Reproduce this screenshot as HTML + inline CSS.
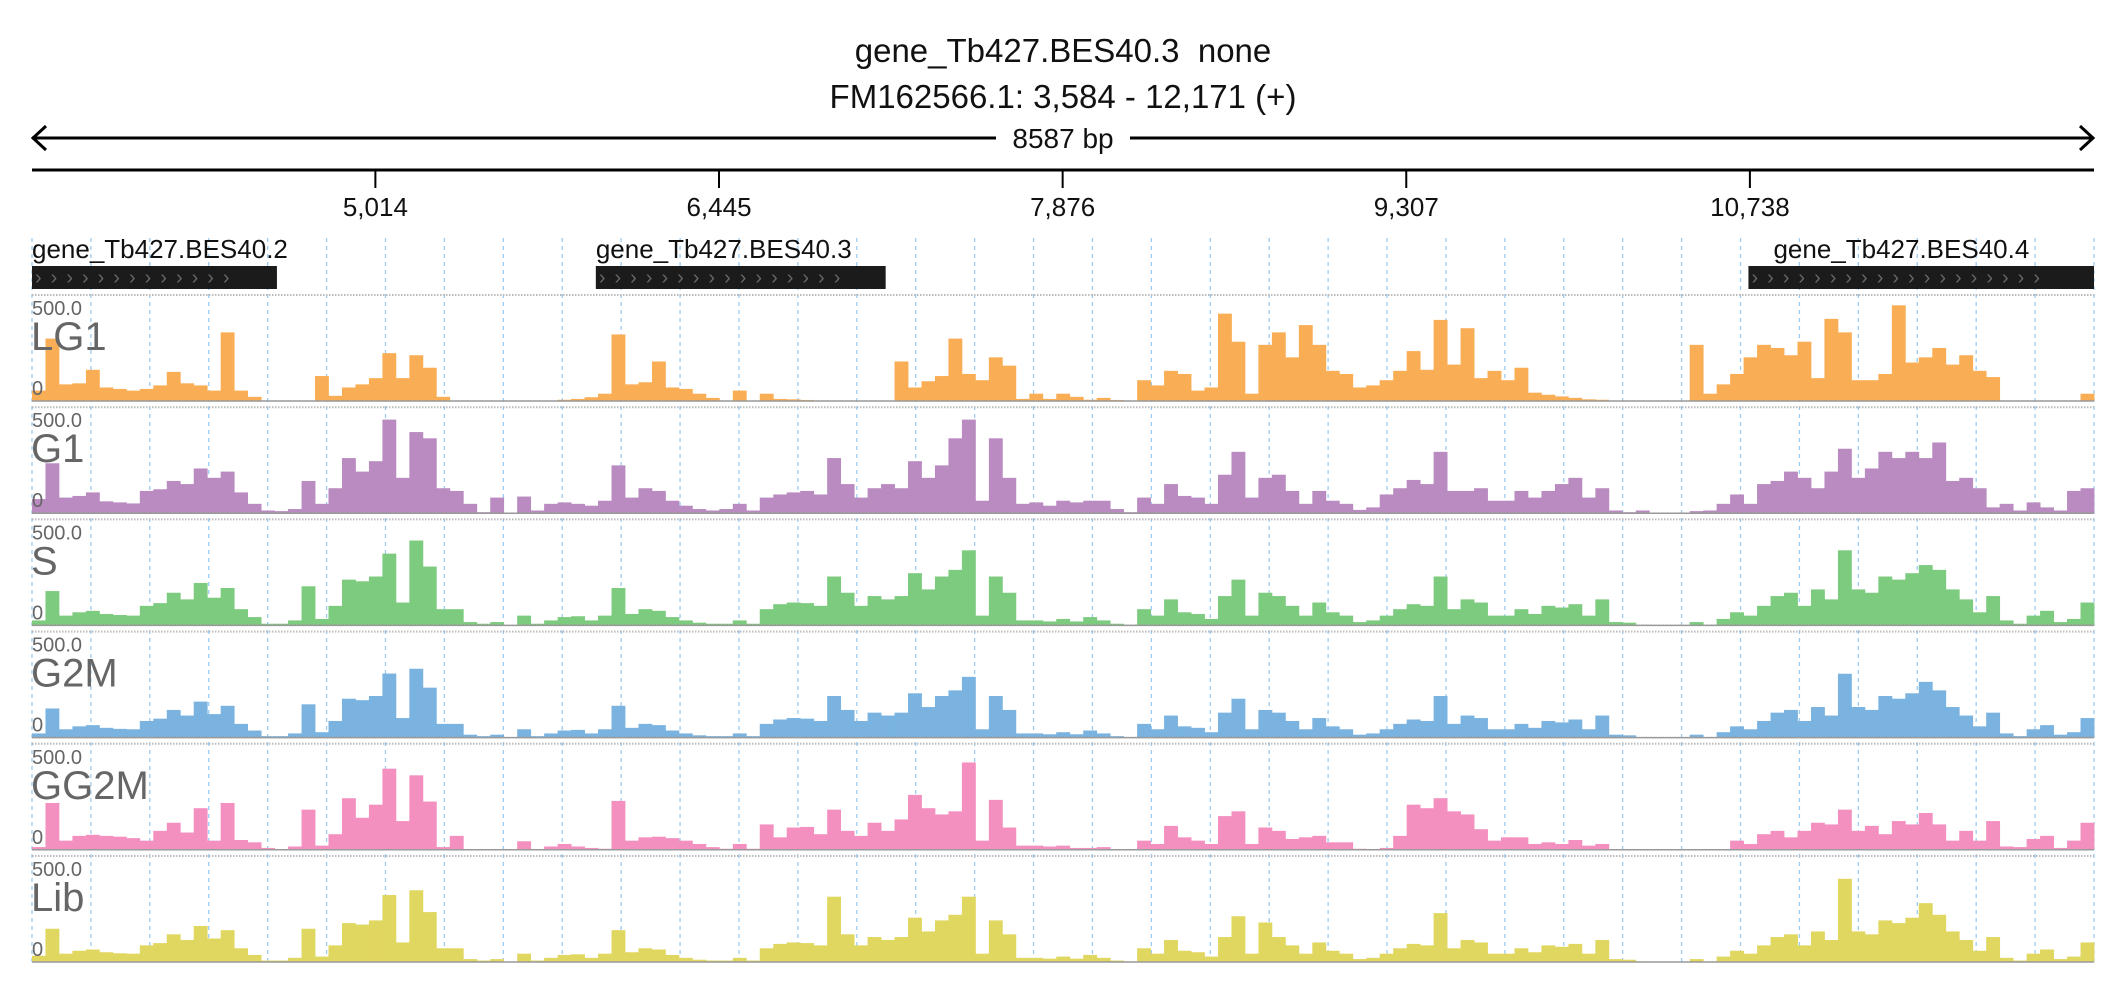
<!DOCTYPE html>
<html><head><meta charset="utf-8"><style>
html,body{margin:0;padding:0;background:#fff;}
svg{display:block;font-family:"Liberation Sans",sans-serif;}
</style></head><body>
<svg id="chart" width="2126" height="1000" viewBox="0 0 2126 1000" xmlns="http://www.w3.org/2000/svg">
<g id="grid"></g>
<g>
<text x="1063" y="62" font-size="33" text-anchor="middle" fill="#111">gene_Tb427.BES40.3&#160;&#160;none</text>
<text x="1063" y="108" font-size="33" text-anchor="middle" fill="#111">FM162566.1: 3,584 - 12,171 (+)</text>
<line x1="32" y1="138" x2="2094" y2="138" stroke="#000" stroke-width="3"/>
<polyline points="46,126 33,138 46,150" fill="none" stroke="#000" stroke-width="3"/>
<polyline points="2080,126 2093,138 2080,150" fill="none" stroke="#000" stroke-width="3"/>
<rect x="996" y="120" width="134" height="34" fill="#fff"/>
<text x="1063" y="148" font-size="28" text-anchor="middle" fill="#111">8587 bp</text>
<line x1="32" y1="170" x2="2094" y2="170" stroke="#000" stroke-width="3"/>
</g>
<g id="axis"></g>
<g id="genes"></g>
<g id="tracks"></g>
</svg>
<script>
const NS="http://www.w3.org/2000/svg";
const startBp=3584, endBp=12171;
const tickValues=[5014,6445,7876,9307,10738];
const tickLabels=["5,014","6,445","7,876","9,307","10,738"];
const geneNames=["gene_Tb427.BES40.2","gene_Tb427.BES40.3","gene_Tb427.BES40.4"];
const geneStarts=[3584,5932,10732];
const geneEnds=[4604,7139,12171];
const trackNames=["LG1","G1","S","G2M","GG2M","Lib"];
const trackMax=500;
const valsLG1=[50,300,80,85,150,65,58,50,58,75,140,85,75,50,330,50,20,0,0,0,0,120,25,65,80,110,230,110,220,160,20,0,0,0,0,0,0,0,0,6,10,18,35,320,80,90,190,65,58,35,15,0,50,0,35,10,8,5,0,0,0,0,0,0,190,65,95,120,300,130,100,210,170,10,35,10,35,20,6,15,5,0,100,75,145,130,50,65,420,285,35,270,330,210,365,270,145,130,65,75,100,145,240,150,390,175,350,110,145,100,160,40,30,22,15,8,6,0,0,0,0,0,0,270,35,80,130,210,270,255,220,285,110,395,330,100,100,130,460,185,210,255,175,220,145,115,0,0,0,0,0,0,35];
const valsG1=[68,240,75,83,100,57,52,47,107,115,155,140,215,170,200,100,45,13,10,20,155,45,120,265,200,250,450,170,390,360,120,107,45,5,75,0,80,13,45,52,45,36,60,230,75,120,107,60,36,20,13,20,45,13,75,90,100,107,90,265,140,75,120,140,120,250,170,230,360,450,60,360,170,45,52,36,60,52,60,60,20,5,75,45,140,83,75,45,185,295,75,170,185,107,45,107,60,45,16,28,90,120,160,140,295,107,107,120,60,60,107,75,107,140,170,75,120,13,5,13,0,0,0,10,13,45,90,45,140,155,200,170,120,200,310,170,215,295,265,295,265,340,155,170,120,28,45,13,52,28,13,107,120];
const valsS=[24,165,47,63,70,55,50,47,94,107,157,125,204,133,180,78,40,8,8,24,188,31,94,220,212,235,345,110,408,283,78,78,16,8,16,0,47,8,24,40,44,24,47,180,55,78,70,40,24,13,8,8,24,8,78,102,110,107,94,235,157,94,141,125,141,251,173,235,267,361,47,235,157,24,24,19,31,19,40,24,8,3,78,47,125,63,55,31,141,220,47,157,141,94,47,110,63,47,16,24,47,78,102,94,235,78,125,110,47,47,78,55,94,86,102,47,125,16,13,3,0,0,0,16,3,31,63,47,94,141,157,94,173,125,361,173,157,235,220,251,290,267,173,125,63,141,24,8,47,70,16,31,110];
const valsG2M=[20,140,40,54,60,47,42,40,80,91,133,106,173,113,153,66,34,7,7,20,160,26,80,187,180,200,308,94,331,240,66,66,14,7,14,0,40,7,20,34,37,20,40,153,47,66,60,34,20,11,7,7,20,7,66,87,94,91,80,200,133,80,120,106,120,213,147,200,227,292,40,200,133,20,20,16,26,16,34,20,7,3,66,40,106,54,47,26,120,187,40,133,120,80,40,94,54,40,14,20,40,66,87,80,200,66,106,94,40,40,66,47,80,73,87,40,106,14,11,3,0,0,0,14,3,26,54,40,80,120,133,80,147,106,307,147,133,200,187,213,268,227,147,106,54,120,20,7,40,60,14,26,94];
const valsGG2M=[13,225,44,67,72,67,63,56,44,91,130,83,200,44,225,47,36,9,0,16,193,20,75,248,154,217,390,138,358,232,13,67,0,0,0,0,41,3,16,28,16,9,5,235,44,60,63,56,44,28,13,5,28,5,122,60,107,110,75,193,91,67,130,91,146,264,200,170,185,420,44,240,107,20,20,16,20,9,9,13,3,0,44,28,115,60,44,28,162,185,28,107,91,52,60,67,36,36,5,3,9,67,217,200,248,185,170,99,44,60,60,28,36,28,47,20,28,3,0,0,0,0,0,0,0,0,44,28,75,91,60,91,130,122,193,91,115,75,138,122,177,122,44,91,44,138,16,13,52,67,9,44,130];
const valsLib=[30,160,40,54,60,47,42,40,80,91,133,106,173,113,153,66,34,7,7,20,160,26,80,187,180,200,322,94,345,240,66,66,14,7,14,0,40,7,20,34,37,20,40,153,47,66,60,34,20,11,7,7,20,7,66,87,94,91,80,314,133,80,120,106,120,213,147,200,227,314,40,200,133,20,20,16,26,16,34,20,7,3,66,40,106,54,47,26,120,220,40,190,120,80,40,94,54,40,14,20,40,66,87,80,235,66,106,94,40,40,66,47,80,73,87,40,106,14,11,3,0,0,0,14,3,26,54,40,80,120,133,80,147,106,400,147,133,200,187,213,283,227,147,106,54,120,20,7,40,60,14,26,94];
const trackValues=[valsLG1,valsG1,valsS,valsG2M,valsGG2M,valsLib];
const trackColors=["#f9ae56","#b98bc0","#7ccb7e","#7ab3e0","#f390bf","#e0d761"];

const X0=32, X1=2094;
function xScale(bp){return X0+(bp-startBp)/(endBp-startBp)*(X1-X0);}
const trackTop0=295, trackStep=112.2, trackH=104;
function yScale(v,top){return top+106-v/trackMax*trackH;}
function mk(tag,attrs,parent){const e=document.createElementNS(NS,tag);for(const k in attrs)e.setAttribute(k,attrs[k]);parent.appendChild(e);return e;}

const grid=document.getElementById('grid');
for(let k=0;k<=35;k++){
  const gx=X0+k*(X1-X0)/35;
  const l=mk('line',{x1:gx,y1:238,x2:gx,y2:965,stroke:'#9ecbf0','stroke-width':1.3,'stroke-dasharray':'4,4'},grid);
  
  
}
const axis=document.getElementById('axis');
tickValues.forEach((t,i)=>{
  const tx=xScale(t);
  const tl=mk('line',{x1:tx,y1:170,x2:tx,y2:188,stroke:'#000','stroke-width':2},axis);
  
  
  const tt=mk('text',{x:tx,y:216,'font-size':26,'text-anchor':'middle',fill:'#111'},axis);
  tt.textContent=tickLabels[i];
  
  
});
const genes=document.getElementById('genes');
geneNames.forEach((g,i)=>{
  const gx0=xScale(geneStarts[i]), gx1=xScale(geneEnds[i]);
  const lab=mk('text',{x:gx0+(i==2?25:0),y:258,'font-size':26,fill:'#111'},genes);
  lab.textContent=g;
  
  
  const r=mk('rect',{x:gx0,y:266,width:gx1-gx0,height:23,fill:'#1b1b1b'},genes);
  
  
  let s='';for(let cx=gx0+4;cx<gx1-8;cx+=17.5)s+='›';
  const ch=mk('text',{x:gx0+3,y:284,'font-size':20,fill:'#666','letter-spacing':'9'},genes);
  ch.textContent=s.slice(0,Math.floor((gx1-gx0-6)/17.5));
});
const tracks=document.getElementById('tracks');
trackNames.forEach((name,ti)=>{
  const top=trackTop0+ti*trackStep;
  const g=mk('g',{},tracks);
  
  
  mk('line',{x1:X0,y1:top,x2:X1,y2:top,stroke:'#bbb','stroke-width':2,'stroke-dasharray':'1.5,1.5'},g);
  const vals=trackValues[ti];
  const bw=(X1-X0)/vals.length;
  vals.forEach((v,i)=>{
    const y=yScale(v,top);
    const b=mk('rect',{x:X0+i*bw,y:y,width:bw+0.4,height:top+106-y,fill:trackColors[ti]},g);
    
    
  });
  mk('line',{x1:X0,y1:top+106,x2:X1,y2:top+106,stroke:'#999','stroke-width':1.5},g);
  const mx=mk('text',{x:X0,y:top+20,'font-size':20,fill:'#666'},g);
  mx.textContent='500.0';
  
  
  const nm=mk('text',{x:X0-1,y:top+55,'font-size':40,fill:'#666'},g);
  nm.textContent=name;
  
  
  const z=mk('text',{x:X0,y:top+100,'font-size':20,fill:'#666'},g);
  z.textContent='0';
  
  
});
</script>
</body></html>
